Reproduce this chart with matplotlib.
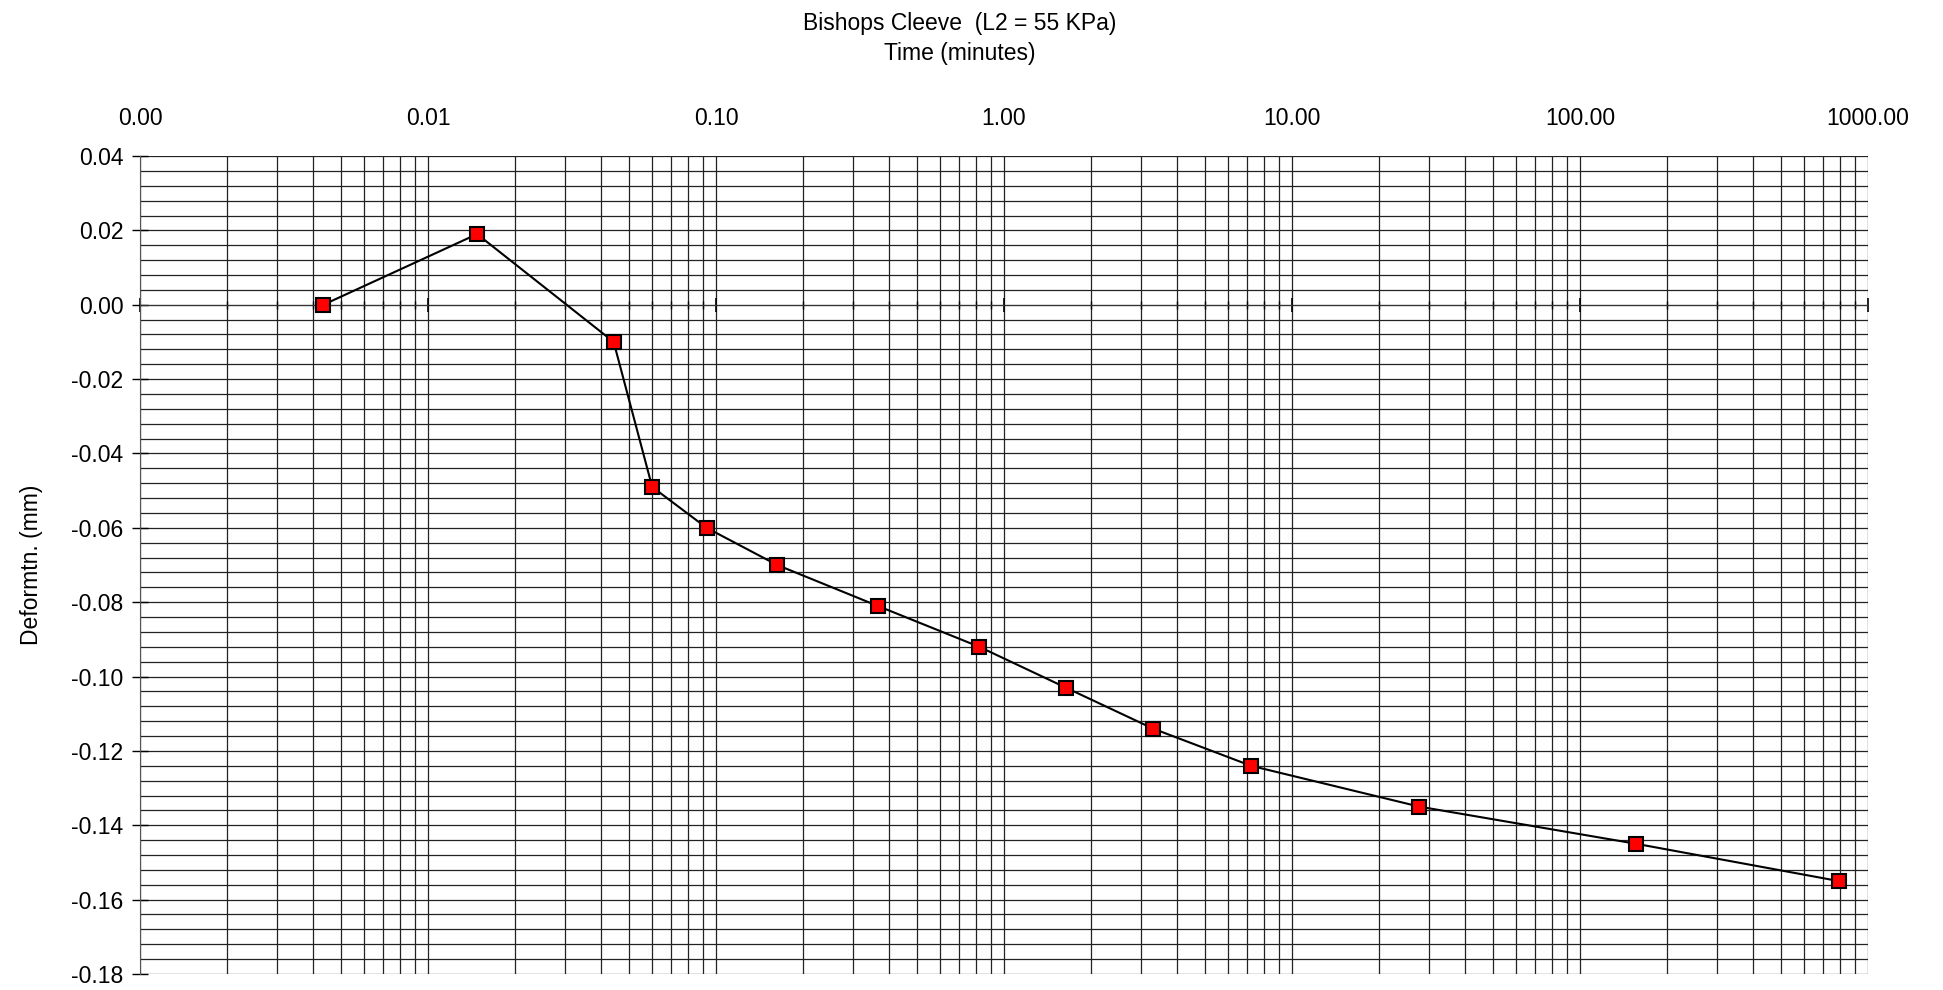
import matplotlib
matplotlib.use("Agg")

import numpy as np
import matplotlib.pyplot as plt
from matplotlib.ticker import FixedLocator, LogLocator, MultipleLocator, FormatStrFormatter, NullFormatter

plt.rcParams['font.family'] = ['Liberation Sans', 'DejaVu Sans']

# Data
time_min = [0.00433, 0.0148, 0.0441, 0.060, 0.0927, 0.163, 0.364,
            0.82, 1.64, 3.29, 7.2, 27.7, 157, 790]
deform_mm = [0.000, 0.019, -0.010, -0.049, -0.060, -0.070, -0.081,
             -0.092, -0.103, -0.114, -0.124, -0.135, -0.145, -0.155]
x_ticks = [0.001, 0.01, 0.1, 1, 10, 100, 1000]

fig = plt.figure(figsize=(19.43, 9.9), dpi=100)
ax = fig.add_axes([0.0721, 0.0162, 0.8893, 0.8262])

ax.plot(time_min, deform_mm, color='black', lw=1.5, marker='s',
        markersize=9.5, markerfacecolor='red', markeredgecolor='black',
        markeredgewidth=1.5, zorder=5)

ax.set_xscale('log')
ax.set_xlim(0.001, 1000)
ax.set_ylim(-0.18, 0.04)

# x tick labels on top, axis line with ticks at y = 0
ax.xaxis.set_major_locator(FixedLocator(x_ticks))
ax.xaxis.set_minor_locator(LogLocator(base=10, subs=np.arange(2, 10), numticks=100))
ax.xaxis.set_major_formatter(FormatStrFormatter('%.2f'))
ax.xaxis.set_minor_formatter(NullFormatter())
ax.tick_params(axis='x', which='both', top=False, bottom=True,
               labeltop=True, labelbottom=False, direction='inout',
               labelsize=16.5, pad=14)
ax.tick_params(axis='x', which='major', length=10, width=1.2)
ax.tick_params(axis='x', which='minor', length=6, width=1)
ax.spines['bottom'].set_position(('data', 0))

ax.yaxis.set_major_locator(MultipleLocator(0.02))
ax.yaxis.set_minor_locator(MultipleLocator(0.004))
ax.yaxis.set_major_formatter(FormatStrFormatter('%.2f'))
ax.tick_params(axis='y', which='major', direction='inout', length=12,
               width=1, labelsize=16.5, pad=6)
ax.tick_params(axis='y', which='minor', length=0)

ax.grid(True, which='both', color='#222222', lw=0.9)
ax.set_axisbelow(True)
for s in ['top', 'right']:
    ax.spines[s].set_visible(False)
ax.spines['left'].set_color('#555555')
ax.spines['bottom'].set_color('#333333')

ax.set_ylabel('Deformtn. (mm)', fontsize=16.5, labelpad=20)

fig.text(0.494, 0.976, 'Bishops Cleeve  (L2 = 55 KPa)', ha='center', va='center', fontsize=16.5)
fig.text(0.494, 0.946, 'Time (minutes)', ha='center', va='center', fontsize=16.5)

fig.savefig('out.png', dpi=100)
